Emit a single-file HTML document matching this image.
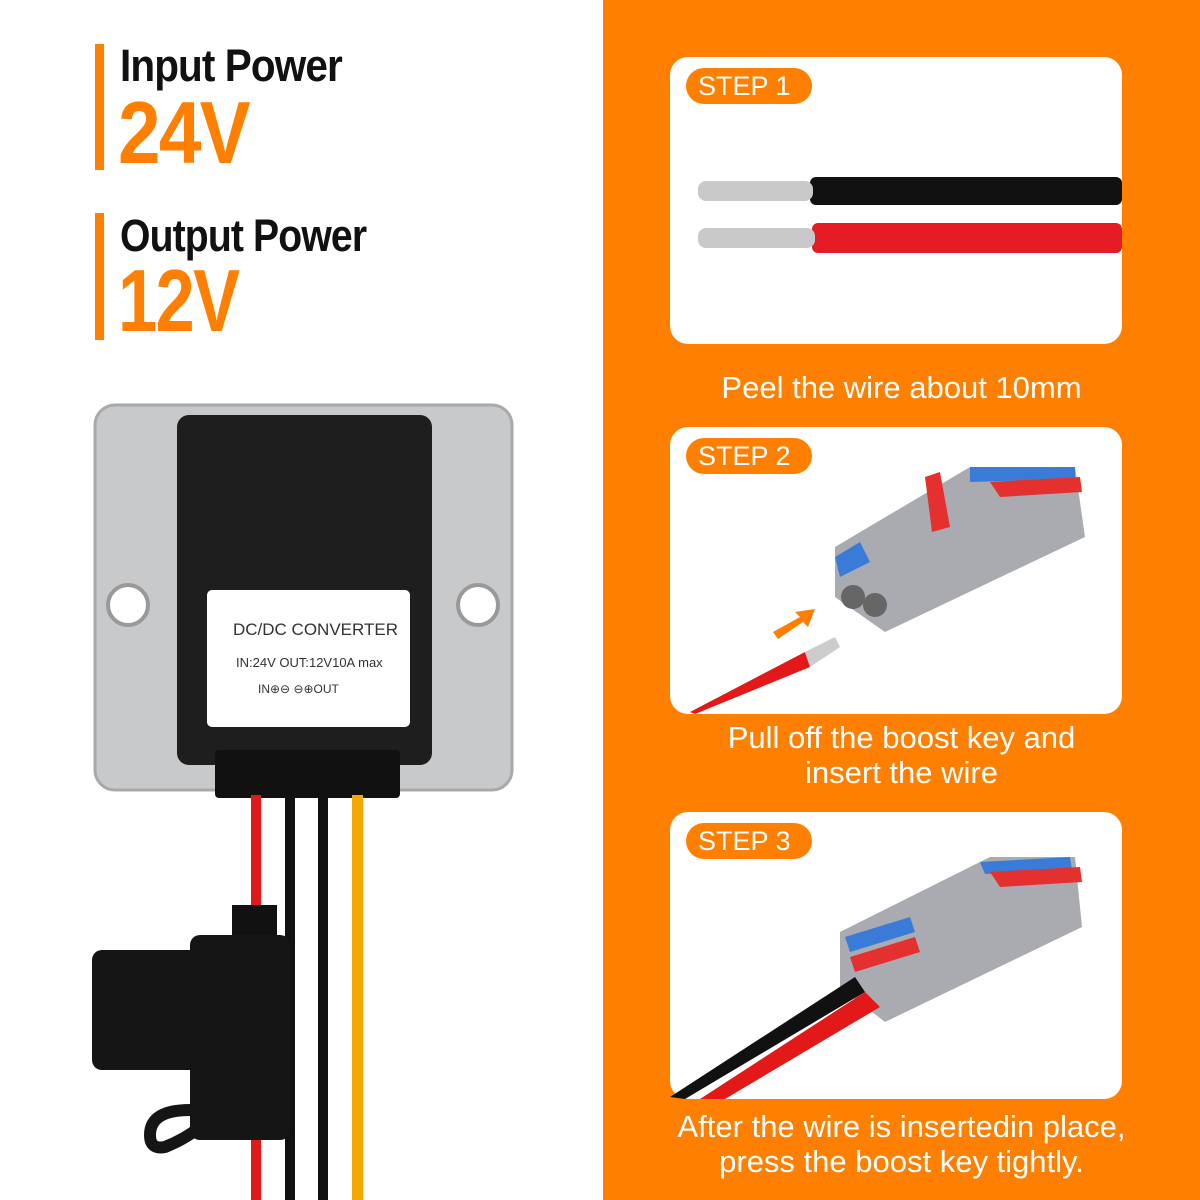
<!DOCTYPE html>
<html><head><meta charset="utf-8"><style>
body{margin:0;width:1200px;height:1200px;position:relative;overflow:hidden;background:#fff;font-family:"Liberation Sans",sans-serif}
.a{position:absolute}
.bar{position:absolute;left:95px;width:9px;background:#ff7f00}
.h{position:absolute;left:120px;font-weight:bold;color:#111;font-size:45px;transform-origin:left top;letter-spacing:-1px}
.big{position:absolute;left:118px;font-weight:bold;color:#ff7f00;font-size:88px;transform-origin:left top;letter-spacing:-2px}
.card{position:absolute;left:670px;width:452px;height:287px;background:#fff;border-radius:18px}
.pill{position:absolute;left:16px;top:11px;width:126px;height:36px;border-radius:18px;background:#ff7f00;color:#fff;font-size:27px;line-height:36px;text-indent:12px}
.cap{position:absolute;left:603px;width:597px;text-align:center;color:#fff;font-size:31px;line-height:35px}
</style></head><body>
<div class="bar" style="top:44px;height:126px"></div>
<div class="bar" style="top:213px;height:127px"></div>
<div class="h" style="top:40px;transform:scaleX(.9)">Input Power</div>
<div class="big" style="top:82px;transform:scaleX(.87)">24V</div>
<div class="h" style="top:210px;transform:scaleX(.87)">Output Power</div>
<div class="big" style="top:250px;transform:scaleX(.8)">12V</div>

<svg class="a" style="left:0;top:390px" width="600" height="810">
<rect x="95" y="15" width="417" height="385" rx="20" fill="#c8c9cb"/>
<rect x="95" y="15" width="417" height="385" rx="20" fill="none" stroke="#a8a9ab" stroke-width="3"/>
<circle cx="128" cy="215" r="20" fill="#fff" stroke="#999" stroke-width="4"/>
<circle cx="478" cy="215" r="20" fill="#fff" stroke="#999" stroke-width="4"/>
<rect x="177" y="25" width="255" height="350" rx="12" fill="#1e1e1e"/>
<rect x="207" y="200" width="203" height="137" rx="5" fill="#fff"/>
<text x="233" y="245" font-size="17" fill="#333">DC/DC CONVERTER</text>
<text x="236" y="277" font-size="13" fill="#333">IN:24V    OUT:12V10A max</text>
<text x="258" y="303" font-size="12" fill="#333">IN⊕⊖  ⊖⊕OUT</text>
<rect x="215" y="360" width="185" height="48" rx="4" fill="#111"/>
<rect x="251" y="405" width="10" height="405" fill="#e31818"/>
<rect x="285" y="405" width="10" height="405" fill="#111"/>
<rect x="318" y="405" width="10" height="405" fill="#111"/>
<rect x="352" y="405" width="11" height="405" fill="#f5a900"/>
<rect x="232" y="515" width="45" height="40" fill="#111"/>
<rect x="92" y="560" width="198" height="120" rx="10" fill="#151515"/>
<rect x="190" y="545" width="100" height="205" rx="10" fill="#151515"/>
<path d="M190 720 q-40 0 -40 25 q0 15 15 12 q20 -8 35 -20" fill="none" stroke="#151515" stroke-width="12"/>
</svg>

<div class="a" style="left:603px;top:0;width:597px;height:1200px;background:#ff7f00"></div>

<div class="card" style="top:57px"><div class="pill">STEP 1</div>
<svg class="a" style="left:0;top:0" width="452" height="287">
<rect x="140" y="120" width="312" height="28" rx="6" fill="#111"/>
<rect x="142" y="166" width="310" height="30" rx="6" fill="#e51c23"/>
<rect x="28" y="124" width="115" height="20" rx="8" fill="#c9c9c9"/>
<rect x="28" y="171" width="117" height="20" rx="8" fill="#c9c9c9"/>
</svg></div>
<div class="cap" style="top:370px">Peel the wire about 10mm</div>

<div class="card" style="top:427px"><div class="pill">STEP 2</div>
<svg class="a" style="left:0;top:0" width="452" height="287">
<path d="M165 120 L300 40 L405 40 L415 110 L215 205 L165 170Z" fill="#a9abb0"/>
<path d="M300 40 L405 40 L405 52 L300 55Z" fill="#3b7bd8"/>
<path d="M320 55 L410 50 L412 65 L330 70Z" fill="#e53030"/>
<path d="M255 50 L270 45 L280 100 L262 105Z" fill="#e53030"/>
<path d="M165 130 L190 115 L200 135 L170 150Z" fill="#3b7bd8"/>
<circle cx="183" cy="170" r="12" fill="#666"/><circle cx="205" cy="178" r="12" fill="#666"/>
<path d="M20 285 L135 225 L140 240 L25 287Z" fill="#e31818"/>
<path d="M135 225 L165 210 L170 220 L140 240Z" fill="#ccc"/>
<path d="M103 205 L130 190 L125 185 L145 182 L138 200 L133 195 L108 212Z" fill="#ff7f00"/>
</svg></div>
<div class="cap" style="top:720px">Pull off the boost key and<br>insert the wire</div>

<div class="card" style="top:812px"><div class="pill">STEP 3</div>
<svg class="a" style="left:0;top:0" width="452" height="287">
<path d="M170 120 L320 45 L405 45 L412 115 L215 210 L170 175Z" fill="#a9abb0"/>
<path d="M310 50 L400 45 L402 58 L315 62Z" fill="#3b7bd8"/>
<path d="M320 60 L410 55 L412 70 L330 75Z" fill="#e53030"/>
<path d="M175 125 L240 105 L245 120 L180 140Z" fill="#3b7bd8"/>
<path d="M180 145 L245 125 L250 140 L185 160Z" fill="#e53030"/>
<path d="M0 285 L185 165 L195 180 L15 287Z" fill="#111"/>
<path d="M30 287 L195 180 L210 195 L55 287Z" fill="#e31818"/>
</svg></div>
<div class="cap" style="top:1109px">After the wire is insertedin place,<br>press the boost key tightly.</div>
</body></html>
